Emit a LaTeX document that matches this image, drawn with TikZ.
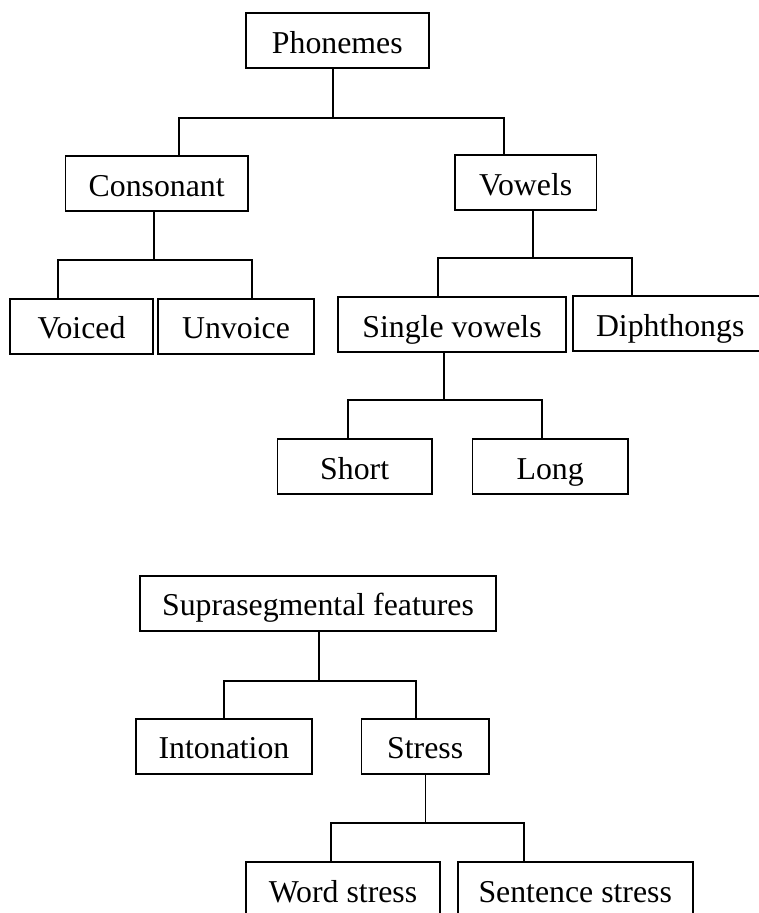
\documentclass[tikz,border=0pt]{standalone}
\usepackage{fontspec}
\setmainfont{Liberation Serif}
\begin{document}
\begin{tikzpicture}[x=1pt,y=-1pt,
  box/.style={draw, line width=1.7pt, inner sep=0pt, minimum height=55pt,
    text height=25pt, text depth=0pt, font=\fontsize{31.8}{38}\selectfont},
  conn/.style={line width=1.7pt, line join=miter}]
\useasboundingbox (0,0) rectangle (759,913);
\clip (0,0) rectangle (759,913);
% first tree
\node[box, minimum width=183.3pt] (ph)  at (337.3,40.8)  {Phonemes};
\node[box, minimum width=182.7pt] (con) at (156.7,183.7) {Consonant};
\node[box, minimum width=141.3pt] (vow) at (525.7,182.7) {Vowels};
\node[box, minimum width=142.4pt] (voi) at (81.5,326.2)  {Voiced};
\node[box, minimum width=155.4pt] (unv) at (236,326.2)   {Unvoice};
\node[box, minimum width=227.4pt] (sin) at (452,324.7)   {Single vowels};
\node[box, minimum width=195pt]   (dip) at (670.2,323.5) {Diphthongs};
\node[box, minimum width=154.7pt] (sho) at (354.7,466.8) {Short};
\node[box, minimum width=155.7pt] (lon) at (550.2,466.5) {Long};
% second tree
\node[box, minimum width=356pt]   (sup) at (318,603.2)   {Suprasegmental features};
\node[box, minimum width=176.6pt] (int) at (224,746.2)   {Intonation};
\node[box, minimum width=127.7pt] (str) at (425.2,746.2) {Stress};
\node[box, minimum width=194.6pt] (wor) at (343,889.8)   {Word stress};
\node[box, minimum width=235pt]   (sen) at (575.2,889.8) {Sentence stress};

% junction coordinates
\coordinate (j1) at (333,117.7);   \coordinate (a1) at (179,117.7);   \coordinate (b1) at (504.3,117.7);
\coordinate (j2) at (153.7,260);   \coordinate (a2) at (58.3,260);    \coordinate (b2) at (251.7,260);
\coordinate (j3) at (533.3,258.3); \coordinate (a3) at (437.7,258.3); \coordinate (b3) at (632.3,258.3);
\coordinate (j4) at (443.7,400);   \coordinate (a4) at (348.3,400);   \coordinate (b4) at (541.7,400);
\coordinate (j5) at (319.3,680.7); \coordinate (a5) at (224,680.7);   \coordinate (b5) at (416,680.7);
\coordinate (j6) at (425.5,823.3); \coordinate (a6) at (331,823.3);   \coordinate (b6) at (524.3,823.3);

\draw[conn] (j1 |- ph.south) -- (j1);
\draw[conn] (a1 |- con.north) -- (a1) -- (b1) -- (b1 |- vow.north);
\draw[conn] (j2 |- con.south) -- (j2);
\draw[conn] (a2 |- voi.north) -- (a2) -- (b2) -- (b2 |- unv.north);
\draw[conn] (j3 |- vow.south) -- (j3);
\draw[conn] (a3 |- sin.north) -- (a3) -- (b3) -- (b3 |- dip.north);
\draw[conn] (j4 |- sin.south) -- (j4);
\draw[conn] (a4 |- sho.north) -- (a4) -- (b4) -- (b4 |- lon.north);
\draw[conn] (j5 |- sup.south) -- (j5);
\draw[conn] (a5 |- int.north) -- (a5) -- (b5) -- (b5 |- str.north);
\draw[conn] (j6 |- str.south) -- (j6);
\draw[conn] (a6 |- wor.north) -- (a6) -- (b6) -- (b6 |- sen.north);
\end{tikzpicture}
\end{document}
